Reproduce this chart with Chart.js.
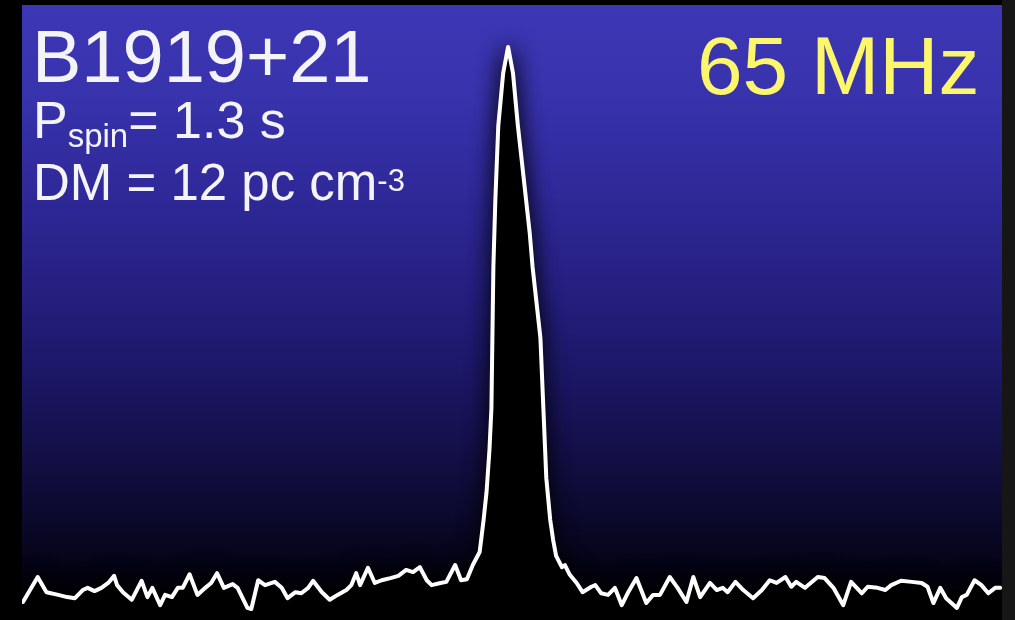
<!DOCTYPE html>
<html>
<head>
<meta charset="utf-8">
<script src="https://cdn.jsdelivr.net/npm/chart.js@4/dist/chart.umd.min.js"></script>
<style>
  html, body { margin: 0; padding: 0; background: #000; }
  #wrap { position: relative; width: 1015px; height: 620px; overflow: hidden; }
  canvas { position: absolute; left: 0; top: 0; }
  .t { position: absolute; font-family: 'Liberation Sans', Arial, Helvetica, sans-serif; line-height: 1; white-space: nowrap; color: #f4f4f6; }
  #name { left: 32px; top: 20px; font-size: 74px; }
  #spin { left: 33px; top: 94px; font-size: 52px; }
  #spin span { font-size: 33px; position: relative; top: 9px; }
  #dm { left: 33px; top: 157px; font-size: 51px; }
  #dm span { font-size: 31px; position: relative; top: -9px; }
  #freq { left: 697px; top: 25px; font-size: 82px; color: #fcf66c; }
</style>
</head>
<body>
<div id="wrap">
  <canvas id="c" width="1015" height="620"></canvas>
  <div class="t" id="name">B1919+21</div>
  <div class="t" id="spin">P<span>spin</span>= 1.3 s</div>
  <div class="t" id="dm">DM = 12 pc cm<span>-3</span></div>
  <div class="t" id="freq">65 MHz</div>
</div>
<script>
// Pulse phase (0..1 across the window)
const phase = [
  0.001, 0.016, 0.025, 0.037, 0.046, 0.054, 0.062, 0.067, 0.074, 0.081,
  0.088, 0.094, 0.097, 0.103, 0.112, 0.122, 0.128, 0.133, 0.141, 0.146,
  0.153, 0.159, 0.164, 0.171, 0.179, 0.187, 0.193, 0.199, 0.206, 0.215,
  0.220, 0.230, 0.234, 0.241, 0.248, 0.258, 0.265, 0.271, 0.279, 0.285,
  0.292, 0.297, 0.306, 0.314, 0.322, 0.331, 0.336, 0.341, 0.345, 0.353,
  0.360, 0.367, 0.376, 0.384, 0.392, 0.399, 0.406, 0.413, 0.418, 0.427,
  0.433, 0.442, 0.448, 0.454, 0.460, 0.467, 0.471, 0.474, 0.477, 0.479,
  0.481, 0.483, 0.486, 0.491, 0.496, 0.501, 0.506, 0.510, 0.518, 0.521,
  0.529, 0.532, 0.535, 0.539, 0.542, 0.545, 0.551, 0.554, 0.559, 0.566,
  0.572, 0.581, 0.585, 0.591, 0.598, 0.605, 0.612, 0.618, 0.627, 0.637,
  0.644, 0.651, 0.661, 0.669, 0.678, 0.685, 0.692, 0.702, 0.709, 0.715,
  0.720, 0.728, 0.736, 0.746, 0.755, 0.763, 0.770, 0.779, 0.785, 0.790,
  0.799, 0.812, 0.819, 0.828, 0.838, 0.846, 0.857, 0.863, 0.873, 0.881,
  0.887, 0.897, 0.908, 0.918, 0.924, 0.930, 0.937, 0.943, 0.954, 0.959,
  0.964, 0.972, 0.979, 0.986, 0.993, 0.998
];
// Normalised flux (peak = 1)
const flux = [
  -0.022, 0.024, -0.004, -0.009, -0.013, -0.015, 0.000, 0.004, -0.002, 0.004,
  0.013, 0.026, 0.009, -0.004, -0.018, 0.017, -0.013, 0.004, -0.028, -0.009,
  -0.013, 0.004, 0.004, 0.029, -0.009, 0.004, 0.013, 0.031, 0.004, 0.011,
  0.004, -0.033, -0.035, 0.018, 0.009, 0.015, 0.004, -0.015, -0.004, -0.006,
  0.004, 0.017, -0.004, -0.018, -0.009, 0.000, 0.009, 0.031, 0.009, 0.041,
  0.013, 0.018, 0.022, 0.026, 0.037, 0.033, 0.042, 0.018, 0.009, 0.013,
  0.015, 0.046, 0.018, 0.020, 0.046, 0.070, 0.129, 0.180, 0.258, 0.335,
  0.595, 0.718, 0.855, 0.952, 1.000, 0.952, 0.855, 0.790, 0.659, 0.595,
  0.464, 0.335, 0.206, 0.129, 0.092, 0.063, 0.042, 0.046, 0.028, 0.013,
  -0.004, 0.006, 0.009, -0.006, -0.009, 0.004, -0.028, -0.006, 0.022, -0.024,
  -0.009, -0.009, 0.024, 0.004, -0.022, 0.024, -0.013, 0.013, 0.000, 0.004,
  -0.004, 0.015, 0.000, -0.015, 0.000, 0.018, 0.013, 0.024, 0.006, 0.015,
  0.004, 0.024, 0.022, 0.004, -0.028, 0.015, -0.006, 0.006, 0.004, 0.000,
  0.009, 0.017, 0.015, 0.013, 0.006, -0.024, 0.004, -0.015, -0.033, -0.013,
  -0.009, 0.018, 0.009, -0.006, 0.004, 0.004
];
const yRange = [-0.0552, 1.0773];

const points = phase.map((p, i) => ({ x: p, y: flux[i] }));

const bgPlugin = {
  id: 'bg',
  beforeDraw(chart) {
    const { ctx, chartArea: a, width, height } = chart;
    ctx.save();
    ctx.fillStyle = '#000';
    ctx.fillRect(0, 0, width, height);
    ctx.fillStyle = '#161616';
    ctx.fillRect(a.right, 0, width - a.right, height);
    const g = ctx.createLinearGradient(0, a.top, 0, a.bottom);
    g.addColorStop(0.00, '#3d37b6');
    g.addColorStop(0.15, '#3832ac');
    g.addColorStop(0.30, '#2f299a');
    g.addColorStop(0.45, '#262083');
    g.addColorStop(0.60, '#1c1766');
    g.addColorStop(0.72, '#141049');
    g.addColorStop(0.82, '#0c0a30');
    g.addColorStop(0.90, '#060519');
    g.addColorStop(0.95, '#02020a');
    g.addColorStop(1.00, '#000000');
    ctx.fillStyle = g;
    ctx.fillRect(a.left, a.top, a.right - a.left, a.bottom - a.top);
    ctx.restore();
  }
};
const shadowPlugin = {
  id: 'shadow',
  beforeDatasetsDraw(chart) {
    const ctx = chart.ctx;
    ctx.save();
    ctx.shadowColor = 'rgba(0,0,0,1)';
    ctx.shadowBlur = 22;
  },
  afterDatasetsDraw(chart) {
    chart.ctx.restore();
  }
};

new Chart(document.getElementById('c'), {
  type: 'line',
  data: {
    datasets: [{
      data: points,
      borderColor: '#ffffff',
      borderWidth: 4,
      borderJoinStyle: 'round',
      borderCapStyle: 'round',
      backgroundColor: '#000000',
      fill: 'start',
      pointRadius: 0,
      tension: 0
    }]
  },
  options: {
    responsive: false,
    animation: false,
    events: [],
    layout: { padding: { left: 22, right: 13, top: 5, bottom: 0 } },
    plugins: { legend: { display: false }, tooltip: { enabled: false }, title: { display: false } },
    scales: {
      x: { type: 'linear', min: 0, max: 1, display: false },
      y: { type: 'linear', min: yRange[0], max: yRange[1], display: false }
    }
  },
  plugins: [bgPlugin, shadowPlugin]
});
</script>
</body>
</html>
